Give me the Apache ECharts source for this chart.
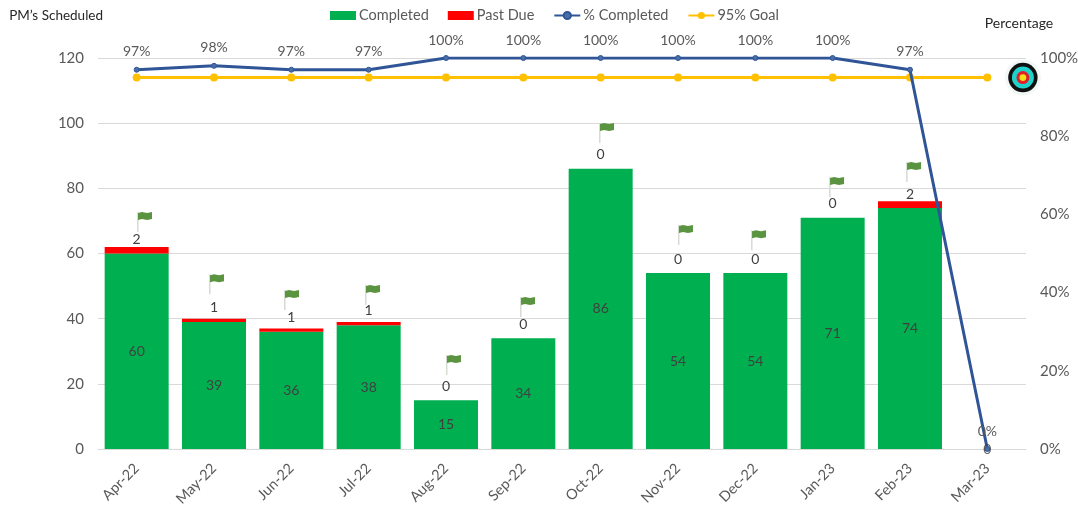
<!DOCTYPE html>
<html>
<head>
<meta charset="utf-8">
<style>html,body{margin:0;padding:0;background:#fff}#c{width:1078px;height:505px}</style>
<script src="https://cdn.jsdelivr.net/npm/echarts@6/dist/echarts.min.js"></script>
</head>
<body>
<div id="c"></div>
<script>
const months = ['Apr-22','May-22','Jun-22','Jul-22','Aug-22','Sep-22','Oct-22','Nov-22','Dec-22','Jan-23','Feb-23','Mar-23'];
const completed = [60,39,36,38,15,34,86,54,54,71,74,0];
const pastDue = [2,1,1,1,0,0,0,0,0,0,2,null];
const pctCompleted = [0.97,0.98,0.97,0.97,1,1,1,1,1,1,0.97,0];
const goal = [0.95,0.95,0.95,0.95,0.95,0.95,0.95,0.95,0.95,0.95,0.95,0.95];
const flagX = [0.595,1.526,2.496,3.543,4.59,5.548,6.569,7.59,8.535,9.544,10.54];
const flagY = [69.7,50.6,45.7,47.3,25.8,43.6,97,65.7,64.1,80.4,85];
const targetPoint = [[11.96,0.95]];

const font = 'Lato';
const grey = '#595959';
const chart = echarts.init(document.getElementById('c'), null, {renderer:'canvas'});

function renderFlag(params, api){
  const p = api.coord([api.value(0), api.value(1)]);
  const x = p[0], y = p[1];
  return {type:'group', children:[
    {type:'rect', shape:{x:x-7,y:y-10,width:1.5,height:20}, style:{fill:'#d5dcd2'}},
    {type:'polygon', shape:{points:[[x-6,y-9],[x-2,y-10],[x+3,y-9],[x+8,y-10],[x+8,y-3],[x+3,y-2],[x-2,y-3],[x-6,y-2]]}, style:{fill:'#5b9440'}}
  ]};
}
function renderTarget(params, api){
  const p = api.coord([api.value(0), api.value(1)]);
  const rings = [[18,'#f1f8f6'],[14.7,'#111111'],[11,'#1fd3cc'],[6.5,'#e0202a'],[3.4,'#f2e21a']];
  return {type:'group', children:rings.map(r=>({type:'circle', shape:{cx:p[0],cy:p[1],r:r[0]}, style:{fill:r[1]}}))};
}

chart.setOption({
  animation:false,
  backgroundColor:'#fff',
  textStyle:{fontFamily:font},
  legend:{
    top:3, left:325, itemWidth:26, itemHeight:9, itemGap:19,
    textStyle:{fontFamily:font,fontSize:14.5,color:grey,padding:[0,0,0,-2]},
    data:[{name:'Completed',icon:'rect'},{name:'Past Due',icon:'rect'},'% Completed','95% Goal']
  },
  grid:{left:98,right:52,top:58,bottom:56,outerBoundsMode:'none'},
  xAxis:[
    {type:'category',data:months,
     axisTick:{show:false},
     axisLine:{lineStyle:{color:'#d9d9d9'}},
     axisLabel:{rotate:45,color:grey,fontFamily:font,fontSize:14.5,interval:0,margin:17}},
    {type:'value',min:0,max:12,show:false}
  ],
  yAxis:[
    {type:'value',min:0,max:120,interval:20,
     name:'PM’s Scheduled',nameLocation:'end',nameGap:35,
     nameTextStyle:{color:'#262626',fontFamily:font,fontSize:13.5,align:'right',padding:[0,-5,0,0]},
     axisLine:{show:false},axisTick:{show:false},
     axisLabel:{color:grey,fontFamily:font,fontSize:15,margin:14},
     splitLine:{lineStyle:{color:'#d9d9d9'}}},
    {type:'value',min:0,max:1,interval:0.2,
     name:'Percentage',nameLocation:'end',nameGap:28,
     nameTextStyle:{color:'#262626',fontFamily:font,fontSize:14,align:'center',padding:[0,0,0,-14]},
     axisLine:{show:false},axisTick:{show:false},
     axisLabel:{color:grey,fontFamily:font,fontSize:15,margin:14,formatter:v=>Math.round(v*100)+'%'},
     splitLine:{show:false}}
  ],
  series:[
    {name:'Completed',type:'bar',stack:'pm',barWidth:64,data:completed,
     itemStyle:{color:'#00B050'},
     label:{show:true,position:'inside',color:'#404040',fontFamily:font,fontSize:14,formatter:p=>p.value===0?'':p.value}},
    {name:'Past Due',type:'bar',stack:'pm',barWidth:64,
     data:pastDue.map(v=>({value:v,label:{distance:v===0?7:(v===1?4:0)}})),
     itemStyle:{color:'#FF0000'},
     label:{show:true,position:'top',color:'#404040',fontFamily:font,fontSize:14}},
    {name:'% Completed',type:'line',yAxisIndex:1,data:pctCompleted,
     lineStyle:{color:'#2F5597',width:3},itemStyle:{color:'#4a6ea8',borderColor:'#2F5597',borderWidth:1},
     symbol:'circle',symbolSize:5,z:5,
     label:{show:true,position:'top',distance:8,color:grey,fontFamily:font,fontSize:14,formatter:p=>Math.round(p.value*100)+'%'}},
    {name:'95% Goal',type:'line',yAxisIndex:1,data:goal,
     lineStyle:{color:'#FFC000',width:3},itemStyle:{color:'#FFC000'},
     symbol:'circle',symbolSize:8,z:4},
    {name:'Zero completed labels',type:'scatter',data:completed.map(v=>v===0?v:null),
     symbolSize:1,itemStyle:{color:'transparent'},z:7,silent:true,
     label:{show:true,position:'inside',color:'#404040',fontFamily:font,fontSize:14,formatter:p=>String(p.value)}},
    {name:'Flags',type:'custom',xAxisIndex:1,yAxisIndex:0,z:6,
     data:flagX.map((x,i)=>[x,flagY[i]]),renderItem:renderFlag,silent:true,
     encode:{x:0,y:1}},
    {name:'Target',type:'custom',xAxisIndex:1,yAxisIndex:1,z:3,
     data:targetPoint,renderItem:renderTarget,silent:true,clip:false,
     encode:{x:0,y:1}}
  ]
});
</script>
</body>
</html>
